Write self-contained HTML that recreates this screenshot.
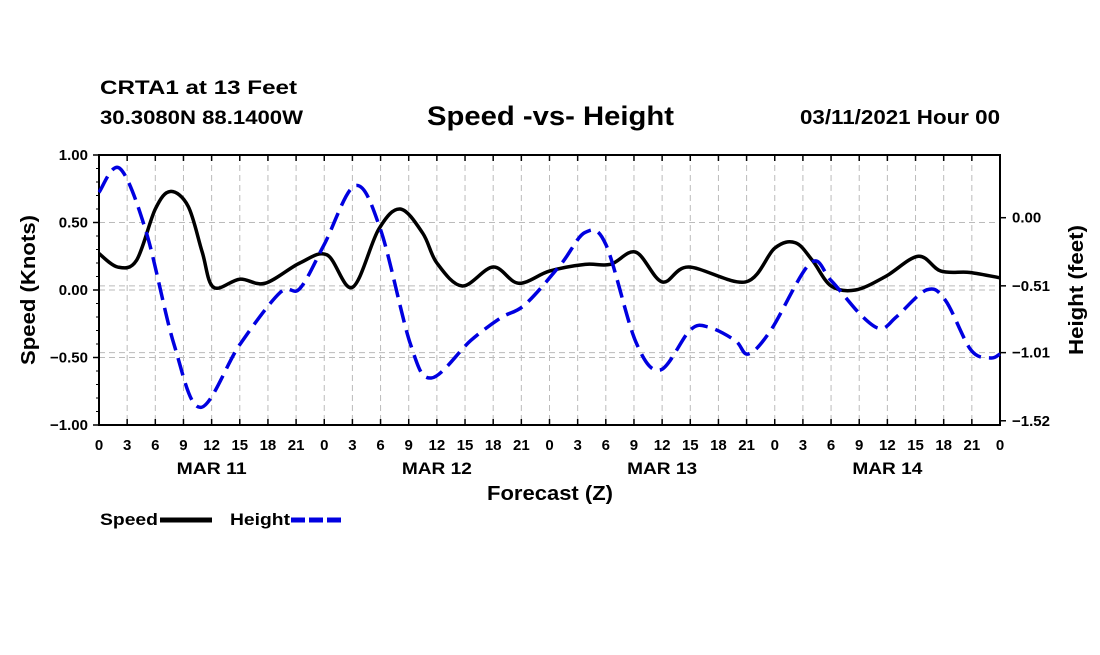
<!DOCTYPE html>
<html><head><meta charset="utf-8"><style>
body{margin:0;background:#fff;}
svg text{font-family:"Liberation Sans",sans-serif;font-weight:bold;fill:#000;}
</style></head><body>
<svg id="chart" width="1100" height="650" viewBox="0 0 1100 650">
<text x="100" y="94" font-size="19" textLength="197" lengthAdjust="spacingAndGlyphs">CRTA1 at 13 Feet</text>
<text x="100" y="124" font-size="19" textLength="203" lengthAdjust="spacingAndGlyphs">30.3080N 88.1400W</text>
<text x="427" y="125" font-size="27" textLength="247" lengthAdjust="spacingAndGlyphs">Speed -vs- Height</text>
<text x="800" y="124" font-size="20" textLength="200" lengthAdjust="spacingAndGlyphs">03/11/2021 Hour 00</text>
<g id="grid"></g>
<g id="axes"></g>
<g id="series"></g>
<text x="487" y="500" font-size="20" textLength="126" lengthAdjust="spacingAndGlyphs">Forecast (Z)</text>
<text transform="translate(35,290) rotate(-90)" font-size="20" text-anchor="middle" textLength="150" lengthAdjust="spacingAndGlyphs">Speed (Knots)</text>
<text transform="translate(1083,290) rotate(-90)" font-size="20" text-anchor="middle" textLength="130" lengthAdjust="spacingAndGlyphs">Height (feet)</text>
<g>
<text x="100" y="525" font-size="17" textLength="58" lengthAdjust="spacingAndGlyphs">Speed</text>
<line x1="160" y1="520" x2="212" y2="520" stroke="#000" stroke-width="5"/>
<text x="230" y="525" font-size="17" textLength="60" lengthAdjust="spacingAndGlyphs">Height</text>
<line x1="291" y1="520" x2="343" y2="520" stroke="#0000e0" stroke-width="5" stroke-dasharray="14,4"/>
</g>
</svg>
<script>
const hourTicks=[0,3,6,9,12,15,18,21,0,3,6,9,12,15,18,21,0,3,6,9,12,15,18,21,0,3,6,9,12,15,18,21,0];
const dayLabels=["MAR 11","MAR 12","MAR 13","MAR 14"];
const speedTicks=[1.00,0.50,0.00,-0.50,-1.00];
const heightTicks=[0.00,-0.51,-1.01,-1.52];
const speedHours=[0,2,4,6,7.6,9.5,11,12.2,15,17.7,21.4,24.3,27,29.8,32.1,34.5,36,38.7,42,44.7,48,51.8,54.5,57.2,60,62.8,68.9,72,74.2,76,78,80.6,83.8,87.3,89.7,92.8,96];
const speedVals=[0.27,0.17,0.22,0.6,0.73,0.62,0.28,0.02,0.08,0.05,0.2,0.26,0.02,0.45,0.6,0.42,0.2,0.03,0.17,0.05,0.14,0.19,0.19,0.28,0.06,0.17,0.06,0.31,0.35,0.22,0.03,0.0,0.1,0.25,0.14,0.13,0.09];
const heightHours=[0,2.2,5,8,10.8,15,19.3,21.4,24,27.3,30,33.2,35.4,39.6,42.8,45.4,49.2,51.8,54,57.2,59.8,63,65,67.8,69.2,71.6,75.8,78,81.2,83.3,85,88.2,90.2,92.9,95,96];
const heightVals=[0.19,0.37,-0.1,-0.95,-1.42,-0.95,-0.56,-0.53,-0.2,0.24,-0.09,-0.95,-1.2,-0.92,-0.75,-0.65,-0.35,-0.11,-0.2,-0.93,-1.14,-0.84,-0.82,-0.92,-1.02,-0.84,-0.34,-0.47,-0.73,-0.83,-0.74,-0.54,-0.62,-0.99,-1.05,-1.02];
const X0=99,X1=1000,Y0=155,Y1=425;
const xs=h=>X0+(X1-X0)*h/96;
const ys=v=>290-135*v;
const yh=f=>217.7-133.6*f;
const NS="http://www.w3.org/2000/svg";
function mk(p,t,a){const e=document.createElementNS(NS,t);for(const k in a)e.setAttribute(k,a[k]);p.appendChild(e);return e;}
const grid=document.getElementById('grid'),axes=document.getElementById('axes'),ser=document.getElementById('series');
hourTicks.forEach((t,i)=>{const x=xs(i*3);
 if(i>0&&i<hourTicks.length-1){const g=mk(grid,'line',{x1:x,x2:x,y1:Y0,y2:Y1,stroke:'#bbb','stroke-dasharray':'6,4'});
 
 }
 const tk=mk(axes,'line',{x1:x,x2:x,y1:Y1,y2:Y1-6,stroke:'#000','stroke-width':1.5});
 
 
 const tk2=mk(axes,'line',{x1:x,x2:x,y1:Y0,y2:Y0+6,stroke:'#000','stroke-width':1.5});
 
 
 const l=mk(axes,'text',{x:x,y:450,'font-size':15,'text-anchor':'middle'});l.textContent=t;
 
 });
dayLabels.forEach((d,i)=>{const l=mk(axes,'text',{x:xs(i*24+12),y:474,'font-size':17,'text-anchor':'middle',textLength:70,lengthAdjust:'spacingAndGlyphs'});l.textContent=d;
 
 });
speedTicks.forEach(v=>{const y=ys(v);
 if(v<1&&v>-1){const g=mk(grid,'line',{x1:X0,x2:X1,y1:y,y2:y,stroke:'#bbb','stroke-dasharray':'6,4'});
 
 }
 const tk=mk(axes,'line',{x1:X0-6,x2:X0,y1:y,y2:y,stroke:'#000','stroke-width':1.5});
 
 
 const l=mk(axes,'text',{x:X0-11,y:y+5,'font-size':15,'text-anchor':'end'});l.textContent=v.toFixed(2).replace('-','\u2212');
 
 });
for(let v=-1;v<=1.001;v+=0.1){const y=ys(v);const m=mk(axes,'line',{x1:X0-3,x2:X0,y1:y,y2:y,stroke:'#000'});
 
 }
heightTicks.forEach(f=>{const y=yh(f);
 if(f<0&&f>-1.5){const g=mk(grid,'line',{x1:X0,x2:X1,y1:y,y2:y,stroke:'#bbb','stroke-dasharray':'6,4'});
 
 }
 const tk=mk(axes,'line',{x1:X1,x2:X1+6,y1:y,y2:y,stroke:'#000','stroke-width':1.5});
 
 
 const l=mk(axes,'text',{x:X1+12,y:y+5,'font-size':15});l.textContent=f.toFixed(2).replace('-','\u2212');
 
 });
const fr=mk(axes,'rect',{x:X0,y:Y0,width:X1-X0,height:Y1-Y0,fill:'none',stroke:'#000','stroke-width':2});


function smooth(pts){let d=`M${pts[0][0]},${pts[0][1]}`;
 for(let i=0;i<pts.length-1;i++){const p0=pts[Math.max(0,i-1)],p1=pts[i],p2=pts[i+1],p3=pts[Math.min(pts.length-1,i+2)];
 d+=` C${p1[0]+(p2[0]-p0[0])/6},${p1[1]+(p2[1]-p0[1])/6} ${p2[0]-(p3[0]-p1[0])/6},${p2[1]-(p3[1]-p1[1])/6} ${p2[0]},${p2[1]}`;}
 return d;}
const sp=mk(ser,'path',{d:smooth(speedHours.map((h,i)=>[xs(h),ys(speedVals[i])])),fill:'none',stroke:'#000','stroke-width':3.5});


const hp=mk(ser,'path',{d:smooth(heightHours.map((h,i)=>[xs(h),yh(heightVals[i])])),fill:'none',stroke:'#0000e0','stroke-width':3.5,'stroke-dasharray':'18,8'});


</script>
</body></html>
